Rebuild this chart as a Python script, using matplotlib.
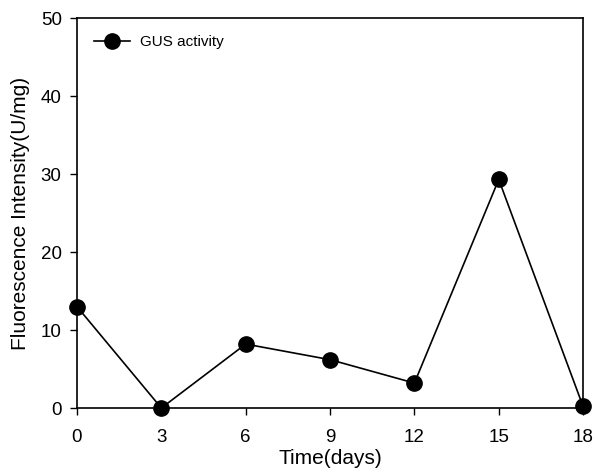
import matplotlib.pyplot as plt
import numpy as np

plt.rcParams['font.family'] = ['Liberation Sans', 'DejaVu Sans']

days = [0, 3, 6, 9, 12, 15, 18]
gus = [13.0, 0.0, 8.2, 6.2, 3.2, 29.3, 0.2]

fig = plt.figure(figsize=(5.95, 4.75), dpi=100)
ax = fig.add_axes([0.1294, 0.141, 0.8506, 0.821])

ax.plot(days, gus, color='black', lw=1.2, marker='o', markersize=11,
        clip_on=False, label='GUS activity', zorder=3)

ax.set_xlim(0, 18)
ax.set_ylim(0, 50)
ax.set_xticks(days)
ax.set_yticks([0, 10, 20, 30, 40, 50])
ax.tick_params(direction='out', length=5, width=1, labelsize=13.5, colors='black')
ax.tick_params(axis='x', pad=10)
ax.tick_params(axis='y', pad=6)
for s in ax.spines.values():
    s.set_linewidth(1.2)

ax.set_xlabel('Time(days)', fontsize=15, labelpad=2)
ax.set_ylabel('Fluorescence Intensity(U/mg)', fontsize=15, labelpad=8)

ax.legend(loc='upper left', frameon=False, fontsize=11, handlelength=2.4,
          borderaxespad=0.7, handletextpad=0.6)

fig.savefig('out.png', dpi=100)
